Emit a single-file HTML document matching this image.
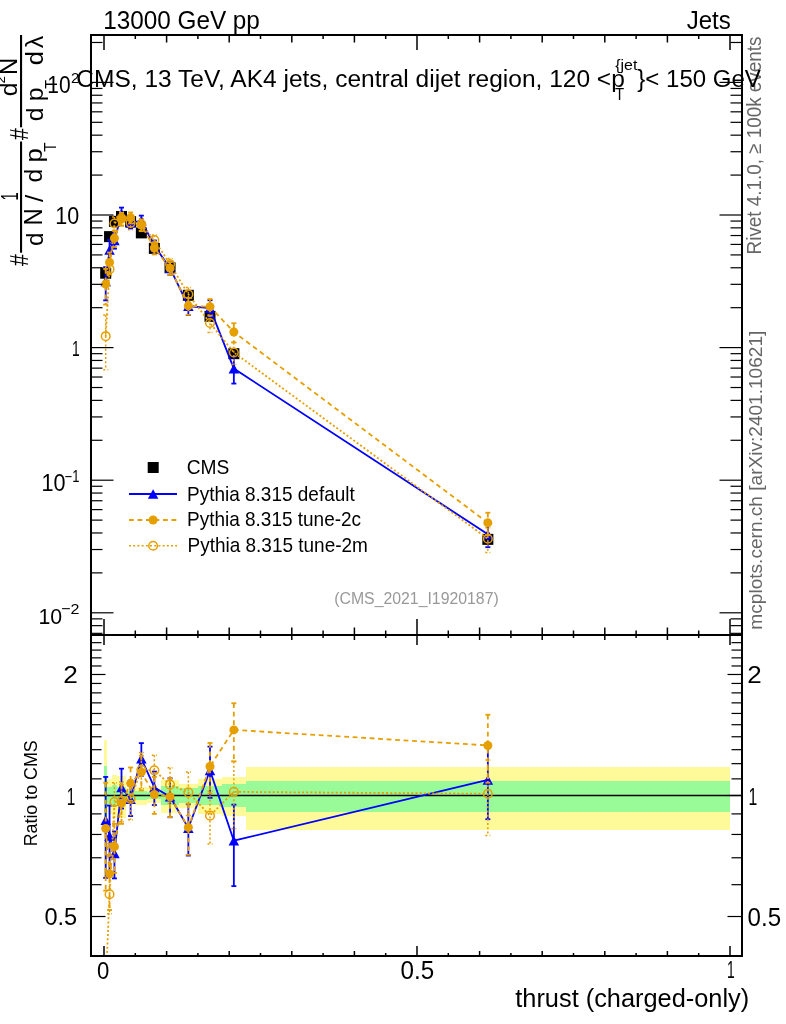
<!DOCTYPE html>
<html><head><meta charset="utf-8"><title>thrust (charged-only)</title>
<style>html,body{margin:0;padding:0;background:#fff;width:786px;height:1024px;overflow:hidden}</style>
</head><body>
<svg width="786" height="1024" viewBox="0 0 786 1024" style="display:block;will-change:transform">
<rect x="0" y="0" width="786" height="1024" fill="#fff"/>
<defs><clipPath id="cu"><rect x="92" y="36" width="649" height="598"/></clipPath><clipPath id="cl"><rect x="92" y="636" width="649" height="319"/></clipPath></defs>
<g clip-path="url(#cl)" shape-rendering="crispEdges">
<rect x="104.0" y="740.2" width="3.4" height="136.8" fill="#fffa99"/>
<rect x="107.4" y="779.2" width="4.3" height="34.3" fill="#fffa99"/>
<rect x="111.7" y="775.2" width="5.5" height="43.2" fill="#fffa99"/>
<rect x="117.2" y="775.7" width="8.6" height="42.1" fill="#fffa99"/>
<rect x="125.8" y="787.6" width="9.6" height="16.1" fill="#fffa99"/>
<rect x="135.4" y="787.0" width="11.9" height="17.5" fill="#fffa99"/>
<rect x="147.3" y="788.0" width="14.1" height="15.4" fill="#fffa99"/>
<rect x="161.4" y="780.0" width="17.3" height="32.6" fill="#fffa99"/>
<rect x="178.7" y="783.5" width="19.3" height="24.8" fill="#fffa99"/>
<rect x="198.0" y="779.0" width="24.0" height="34.7" fill="#fffa99"/>
<rect x="222.0" y="777.3" width="23.7" height="38.6" fill="#fffa99"/>
<rect x="245.7" y="767.0" width="484.3" height="62.5" fill="#fffa99"/>
<rect x="104.0" y="765.6" width="3.4" height="66.1" fill="#98fb98"/>
<rect x="107.4" y="786.8" width="4.3" height="17.8" fill="#98fb98"/>
<rect x="111.7" y="785.3" width="5.5" height="21.0" fill="#98fb98"/>
<rect x="117.2" y="787.0" width="8.6" height="17.5" fill="#98fb98"/>
<rect x="125.8" y="790.8" width="9.6" height="9.4" fill="#98fb98"/>
<rect x="135.4" y="791.2" width="11.9" height="8.7" fill="#98fb98"/>
<rect x="147.3" y="792.0" width="14.1" height="7.0" fill="#98fb98"/>
<rect x="161.4" y="786.2" width="17.3" height="19.2" fill="#98fb98"/>
<rect x="178.7" y="788.0" width="19.3" height="15.4" fill="#98fb98"/>
<rect x="198.0" y="786.2" width="24.0" height="19.2" fill="#98fb98"/>
<rect x="222.0" y="784.3" width="23.7" height="23.1" fill="#98fb98"/>
<rect x="245.7" y="780.8" width="484.3" height="30.8" fill="#98fb98"/>
</g>
<line x1="92" y1="795.5" x2="741" y2="795.5" stroke="#000" stroke-width="1.6"/>
<g clip-path="url(#cu)">
<rect x="100.20" y="267.70" width="11" height="11" fill="#000"/>
<rect x="104.05" y="231.12" width="11" height="11" fill="#000"/>
<rect x="108.95" y="215.82" width="11" height="11" fill="#000"/>
<rect x="116.00" y="210.96" width="11" height="11" fill="#000"/>
<rect x="125.10" y="216.21" width="11" height="11" fill="#000"/>
<rect x="135.85" y="227.39" width="11" height="11" fill="#000"/>
<rect x="148.85" y="242.89" width="11" height="11" fill="#000"/>
<rect x="164.55" y="262.27" width="11" height="11" fill="#000"/>
<rect x="182.85" y="289.80" width="11" height="11" fill="#000"/>
<rect x="204.50" y="310.87" width="11" height="11" fill="#000"/>
<rect x="228.35" y="348.17" width="11" height="11" fill="#000"/>
<rect x="482.35" y="533.86" width="11" height="11" fill="#000"/>
</g>
<g clip-path="url(#cu)">
<polyline points="105.70,281.35 109.55,249.98 114.45,240.40 121.50,213.81 130.60,222.87 141.35,220.73 154.35,245.75 170.05,268.17 188.35,306.03 210.00,308.07 233.85,368.57 487.85,534.23" fill="none" stroke="#0000ff" stroke-width="1.8"/>
<line x1="105.70" y1="267.08" x2="105.70" y2="300.36" stroke="#0000ff" stroke-width="1.8"/>
<line x1="103.20" y1="267.08" x2="108.20" y2="267.08" stroke="#0000ff" stroke-width="1.8"/>
<line x1="103.20" y1="300.36" x2="108.20" y2="300.36" stroke="#0000ff" stroke-width="1.8"/>
<line x1="109.55" y1="239.94" x2="109.55" y2="262.14" stroke="#0000ff" stroke-width="1.8"/>
<line x1="107.05" y1="239.94" x2="112.05" y2="239.94" stroke="#0000ff" stroke-width="1.8"/>
<line x1="107.05" y1="262.14" x2="112.05" y2="262.14" stroke="#0000ff" stroke-width="1.8"/>
<line x1="114.45" y1="233.18" x2="114.45" y2="248.67" stroke="#0000ff" stroke-width="1.8"/>
<line x1="111.95" y1="233.18" x2="116.95" y2="233.18" stroke="#0000ff" stroke-width="1.8"/>
<line x1="111.95" y1="248.67" x2="116.95" y2="248.67" stroke="#0000ff" stroke-width="1.8"/>
<line x1="121.50" y1="207.61" x2="121.50" y2="220.76" stroke="#0000ff" stroke-width="1.8"/>
<line x1="119.00" y1="207.61" x2="124.00" y2="207.61" stroke="#0000ff" stroke-width="1.8"/>
<line x1="119.00" y1="220.76" x2="124.00" y2="220.76" stroke="#0000ff" stroke-width="1.8"/>
<line x1="130.60" y1="217.76" x2="130.60" y2="228.49" stroke="#0000ff" stroke-width="1.8"/>
<line x1="128.10" y1="217.76" x2="133.10" y2="217.76" stroke="#0000ff" stroke-width="1.8"/>
<line x1="128.10" y1="228.49" x2="133.10" y2="228.49" stroke="#0000ff" stroke-width="1.8"/>
<line x1="141.35" y1="215.60" x2="141.35" y2="226.36" stroke="#0000ff" stroke-width="1.8"/>
<line x1="138.85" y1="215.60" x2="143.85" y2="215.60" stroke="#0000ff" stroke-width="1.8"/>
<line x1="138.85" y1="226.36" x2="143.85" y2="226.36" stroke="#0000ff" stroke-width="1.8"/>
<line x1="154.35" y1="240.49" x2="154.35" y2="251.53" stroke="#0000ff" stroke-width="1.8"/>
<line x1="151.85" y1="240.49" x2="156.85" y2="240.49" stroke="#0000ff" stroke-width="1.8"/>
<line x1="151.85" y1="251.53" x2="156.85" y2="251.53" stroke="#0000ff" stroke-width="1.8"/>
<line x1="170.05" y1="262.12" x2="170.05" y2="274.93" stroke="#0000ff" stroke-width="1.8"/>
<line x1="167.55" y1="262.12" x2="172.55" y2="262.12" stroke="#0000ff" stroke-width="1.8"/>
<line x1="167.55" y1="274.93" x2="172.55" y2="274.93" stroke="#0000ff" stroke-width="1.8"/>
<line x1="188.35" y1="298.19" x2="188.35" y2="315.10" stroke="#0000ff" stroke-width="1.8"/>
<line x1="185.85" y1="298.19" x2="190.85" y2="298.19" stroke="#0000ff" stroke-width="1.8"/>
<line x1="185.85" y1="315.10" x2="190.85" y2="315.10" stroke="#0000ff" stroke-width="1.8"/>
<line x1="210.00" y1="300.25" x2="210.00" y2="317.12" stroke="#0000ff" stroke-width="1.8"/>
<line x1="207.50" y1="300.25" x2="212.50" y2="300.25" stroke="#0000ff" stroke-width="1.8"/>
<line x1="207.50" y1="317.12" x2="212.50" y2="317.12" stroke="#0000ff" stroke-width="1.8"/>
<line x1="233.85" y1="356.68" x2="233.85" y2="383.57" stroke="#0000ff" stroke-width="1.8"/>
<line x1="231.35" y1="356.68" x2="236.35" y2="356.68" stroke="#0000ff" stroke-width="1.8"/>
<line x1="231.35" y1="383.57" x2="236.35" y2="383.57" stroke="#0000ff" stroke-width="1.8"/>
<line x1="487.85" y1="523.67" x2="487.85" y2="547.18" stroke="#0000ff" stroke-width="1.8"/>
<line x1="485.35" y1="523.67" x2="490.35" y2="523.67" stroke="#0000ff" stroke-width="1.8"/>
<line x1="485.35" y1="547.18" x2="490.35" y2="547.18" stroke="#0000ff" stroke-width="1.8"/>
<polygon points="100.45,286.20 110.95,286.20 105.70,276.50" fill="#0000ff"/>
<polygon points="104.30,254.83 114.80,254.83 109.55,245.13" fill="#0000ff"/>
<polygon points="109.20,245.25 119.70,245.25 114.45,235.55" fill="#0000ff"/>
<polygon points="116.25,218.66 126.75,218.66 121.50,208.96" fill="#0000ff"/>
<polygon points="125.35,227.72 135.85,227.72 130.60,218.02" fill="#0000ff"/>
<polygon points="136.10,225.58 146.60,225.58 141.35,215.88" fill="#0000ff"/>
<polygon points="149.10,250.60 159.60,250.60 154.35,240.90" fill="#0000ff"/>
<polygon points="164.80,273.02 175.30,273.02 170.05,263.32" fill="#0000ff"/>
<polygon points="183.10,310.88 193.60,310.88 188.35,301.18" fill="#0000ff"/>
<polygon points="204.75,312.92 215.25,312.92 210.00,303.22" fill="#0000ff"/>
<polygon points="228.60,373.42 239.10,373.42 233.85,363.72" fill="#0000ff"/>
<polygon points="482.60,539.08 493.10,539.08 487.85,529.38" fill="#0000ff"/>
</g>
<g clip-path="url(#cu)">
<polyline points="105.70,284.07 109.55,262.41 114.45,238.20 121.50,218.99 130.60,217.71 141.35,225.19 154.35,248.05 170.05,268.17 188.35,305.82 210.00,306.79 233.85,332.03 487.85,522.85" fill="none" stroke="#e69f00" stroke-width="1.8" stroke-dasharray="4.8,3.7"/>
<line x1="105.70" y1="268.98" x2="105.70" y2="304.57" stroke="#e69f00" stroke-width="1.8" stroke-dasharray="4.8,3.7"/>
<line x1="103.20" y1="268.98" x2="108.20" y2="268.98" stroke="#e69f00" stroke-width="1.8"/>
<line x1="103.20" y1="304.57" x2="108.20" y2="304.57" stroke="#e69f00" stroke-width="1.8"/>
<line x1="109.55" y1="252.50" x2="109.55" y2="274.39" stroke="#e69f00" stroke-width="1.8" stroke-dasharray="4.8,3.7"/>
<line x1="107.05" y1="252.50" x2="112.05" y2="252.50" stroke="#e69f00" stroke-width="1.8"/>
<line x1="107.05" y1="274.39" x2="112.05" y2="274.39" stroke="#e69f00" stroke-width="1.8"/>
<line x1="114.45" y1="230.68" x2="114.45" y2="246.84" stroke="#e69f00" stroke-width="1.8" stroke-dasharray="4.8,3.7"/>
<line x1="111.95" y1="230.68" x2="116.95" y2="230.68" stroke="#e69f00" stroke-width="1.8"/>
<line x1="111.95" y1="246.84" x2="116.95" y2="246.84" stroke="#e69f00" stroke-width="1.8"/>
<line x1="121.50" y1="212.89" x2="121.50" y2="225.82" stroke="#e69f00" stroke-width="1.8" stroke-dasharray="4.8,3.7"/>
<line x1="119.00" y1="212.89" x2="124.00" y2="212.89" stroke="#e69f00" stroke-width="1.8"/>
<line x1="119.00" y1="225.82" x2="124.00" y2="225.82" stroke="#e69f00" stroke-width="1.8"/>
<line x1="130.60" y1="212.47" x2="130.60" y2="223.46" stroke="#e69f00" stroke-width="1.8" stroke-dasharray="4.8,3.7"/>
<line x1="128.10" y1="212.47" x2="133.10" y2="212.47" stroke="#e69f00" stroke-width="1.8"/>
<line x1="128.10" y1="223.46" x2="133.10" y2="223.46" stroke="#e69f00" stroke-width="1.8"/>
<line x1="141.35" y1="219.76" x2="141.35" y2="231.18" stroke="#e69f00" stroke-width="1.8" stroke-dasharray="4.8,3.7"/>
<line x1="138.85" y1="219.76" x2="143.85" y2="219.76" stroke="#e69f00" stroke-width="1.8"/>
<line x1="138.85" y1="231.18" x2="143.85" y2="231.18" stroke="#e69f00" stroke-width="1.8"/>
<line x1="154.35" y1="242.28" x2="154.35" y2="254.46" stroke="#e69f00" stroke-width="1.8" stroke-dasharray="4.8,3.7"/>
<line x1="151.85" y1="242.28" x2="156.85" y2="242.28" stroke="#e69f00" stroke-width="1.8"/>
<line x1="151.85" y1="254.46" x2="156.85" y2="254.46" stroke="#e69f00" stroke-width="1.8"/>
<line x1="170.05" y1="262.12" x2="170.05" y2="274.93" stroke="#e69f00" stroke-width="1.8" stroke-dasharray="4.8,3.7"/>
<line x1="167.55" y1="262.12" x2="172.55" y2="262.12" stroke="#e69f00" stroke-width="1.8"/>
<line x1="167.55" y1="274.93" x2="172.55" y2="274.93" stroke="#e69f00" stroke-width="1.8"/>
<line x1="188.35" y1="298.01" x2="188.35" y2="314.86" stroke="#e69f00" stroke-width="1.8" stroke-dasharray="4.8,3.7"/>
<line x1="185.85" y1="298.01" x2="190.85" y2="298.01" stroke="#e69f00" stroke-width="1.8"/>
<line x1="185.85" y1="314.86" x2="190.85" y2="314.86" stroke="#e69f00" stroke-width="1.8"/>
<line x1="210.00" y1="299.04" x2="210.00" y2="315.74" stroke="#e69f00" stroke-width="1.8" stroke-dasharray="4.8,3.7"/>
<line x1="207.50" y1="299.04" x2="212.50" y2="299.04" stroke="#e69f00" stroke-width="1.8"/>
<line x1="207.50" y1="315.74" x2="212.50" y2="315.74" stroke="#e69f00" stroke-width="1.8"/>
<line x1="233.85" y1="323.25" x2="233.85" y2="342.41" stroke="#e69f00" stroke-width="1.8" stroke-dasharray="4.8,3.7"/>
<line x1="231.35" y1="323.25" x2="236.35" y2="323.25" stroke="#e69f00" stroke-width="1.8"/>
<line x1="231.35" y1="342.41" x2="236.35" y2="342.41" stroke="#e69f00" stroke-width="1.8"/>
<line x1="487.85" y1="512.72" x2="487.85" y2="535.14" stroke="#e69f00" stroke-width="1.8" stroke-dasharray="4.8,3.7"/>
<line x1="485.35" y1="512.72" x2="490.35" y2="512.72" stroke="#e69f00" stroke-width="1.8"/>
<line x1="485.35" y1="535.14" x2="490.35" y2="535.14" stroke="#e69f00" stroke-width="1.8"/>
<circle cx="105.70" cy="284.07" r="4.5" fill="#e69f00"/>
<circle cx="109.55" cy="262.41" r="4.5" fill="#e69f00"/>
<circle cx="114.45" cy="238.20" r="4.5" fill="#e69f00"/>
<circle cx="121.50" cy="218.99" r="4.5" fill="#e69f00"/>
<circle cx="130.60" cy="217.71" r="4.5" fill="#e69f00"/>
<circle cx="141.35" cy="225.19" r="4.5" fill="#e69f00"/>
<circle cx="154.35" cy="248.05" r="4.5" fill="#e69f00"/>
<circle cx="170.05" cy="268.17" r="4.5" fill="#e69f00"/>
<circle cx="188.35" cy="305.82" r="4.5" fill="#e69f00"/>
<circle cx="210.00" cy="306.79" r="4.5" fill="#e69f00"/>
<circle cx="233.85" cy="332.03" r="4.5" fill="#e69f00"/>
<circle cx="487.85" cy="522.85" r="4.5" fill="#e69f00"/>
</g>
<g clip-path="url(#cu)">
<polyline points="105.70,336.18 109.55,269.19 114.45,223.50 121.50,218.21 130.60,222.87 141.35,224.39 154.35,240.09 170.05,264.19 188.35,294.27 210.00,323.02 233.85,352.47 487.85,538.78" fill="none" stroke="#e69f00" stroke-width="1.8" stroke-dasharray="2,2.2"/>
<line x1="105.70" y1="315.11" x2="105.70" y2="369.75" stroke="#e69f00" stroke-width="1.5" stroke-dasharray="2,2.2"/>
<line x1="103.20" y1="315.11" x2="108.20" y2="315.11" stroke="#e69f00" stroke-width="1.5" stroke-dasharray="2,2.2"/>
<line x1="103.20" y1="369.75" x2="108.20" y2="369.75" stroke="#e69f00" stroke-width="1.5" stroke-dasharray="2,2.2"/>
<line x1="109.55" y1="263.41" x2="109.55" y2="275.62" stroke="#e69f00" stroke-width="1.5" stroke-dasharray="2,2.2"/>
<line x1="107.05" y1="263.41" x2="112.05" y2="263.41" stroke="#e69f00" stroke-width="1.5" stroke-dasharray="2,2.2"/>
<line x1="107.05" y1="275.62" x2="112.05" y2="275.62" stroke="#e69f00" stroke-width="1.5" stroke-dasharray="2,2.2"/>
<line x1="114.45" y1="217.11" x2="114.45" y2="230.68" stroke="#e69f00" stroke-width="1.5" stroke-dasharray="2,2.2"/>
<line x1="111.95" y1="217.11" x2="116.95" y2="217.11" stroke="#e69f00" stroke-width="1.5" stroke-dasharray="2,2.2"/>
<line x1="111.95" y1="230.68" x2="116.95" y2="230.68" stroke="#e69f00" stroke-width="1.5" stroke-dasharray="2,2.2"/>
<line x1="121.50" y1="212.03" x2="121.50" y2="225.14" stroke="#e69f00" stroke-width="1.5" stroke-dasharray="2,2.2"/>
<line x1="119.00" y1="212.03" x2="124.00" y2="212.03" stroke="#e69f00" stroke-width="1.5" stroke-dasharray="2,2.2"/>
<line x1="119.00" y1="225.14" x2="124.00" y2="225.14" stroke="#e69f00" stroke-width="1.5" stroke-dasharray="2,2.2"/>
<line x1="130.60" y1="216.75" x2="130.60" y2="229.73" stroke="#e69f00" stroke-width="1.5" stroke-dasharray="2,2.2"/>
<line x1="128.10" y1="216.75" x2="133.10" y2="216.75" stroke="#e69f00" stroke-width="1.5" stroke-dasharray="2,2.2"/>
<line x1="128.10" y1="229.73" x2="133.10" y2="229.73" stroke="#e69f00" stroke-width="1.5" stroke-dasharray="2,2.2"/>
<line x1="141.35" y1="218.72" x2="141.35" y2="230.68" stroke="#e69f00" stroke-width="1.5" stroke-dasharray="2,2.2"/>
<line x1="138.85" y1="218.72" x2="143.85" y2="218.72" stroke="#e69f00" stroke-width="1.5" stroke-dasharray="2,2.2"/>
<line x1="138.85" y1="230.68" x2="143.85" y2="230.68" stroke="#e69f00" stroke-width="1.5" stroke-dasharray="2,2.2"/>
<line x1="154.35" y1="235.08" x2="154.35" y2="245.58" stroke="#e69f00" stroke-width="1.5" stroke-dasharray="2,2.2"/>
<line x1="151.85" y1="235.08" x2="156.85" y2="235.08" stroke="#e69f00" stroke-width="1.5" stroke-dasharray="2,2.2"/>
<line x1="151.85" y1="245.58" x2="156.85" y2="245.58" stroke="#e69f00" stroke-width="1.5" stroke-dasharray="2,2.2"/>
<line x1="170.05" y1="258.58" x2="170.05" y2="270.42" stroke="#e69f00" stroke-width="1.5" stroke-dasharray="2,2.2"/>
<line x1="167.55" y1="258.58" x2="172.55" y2="258.58" stroke="#e69f00" stroke-width="1.5" stroke-dasharray="2,2.2"/>
<line x1="167.55" y1="270.42" x2="172.55" y2="270.42" stroke="#e69f00" stroke-width="1.5" stroke-dasharray="2,2.2"/>
<line x1="188.35" y1="287.55" x2="188.35" y2="301.88" stroke="#e69f00" stroke-width="1.5" stroke-dasharray="2,2.2"/>
<line x1="185.85" y1="287.55" x2="190.85" y2="287.55" stroke="#e69f00" stroke-width="1.5" stroke-dasharray="2,2.2"/>
<line x1="185.85" y1="301.88" x2="190.85" y2="301.88" stroke="#e69f00" stroke-width="1.5" stroke-dasharray="2,2.2"/>
<line x1="210.00" y1="314.95" x2="210.00" y2="332.40" stroke="#e69f00" stroke-width="1.5" stroke-dasharray="2,2.2"/>
<line x1="207.50" y1="314.95" x2="212.50" y2="314.95" stroke="#e69f00" stroke-width="1.5" stroke-dasharray="2,2.2"/>
<line x1="207.50" y1="332.40" x2="212.50" y2="332.40" stroke="#e69f00" stroke-width="1.5" stroke-dasharray="2,2.2"/>
<line x1="233.85" y1="342.45" x2="233.85" y2="364.61" stroke="#e69f00" stroke-width="1.5" stroke-dasharray="2,2.2"/>
<line x1="231.35" y1="342.45" x2="236.35" y2="342.45" stroke="#e69f00" stroke-width="1.5" stroke-dasharray="2,2.2"/>
<line x1="231.35" y1="364.61" x2="236.35" y2="364.61" stroke="#e69f00" stroke-width="1.5" stroke-dasharray="2,2.2"/>
<line x1="487.85" y1="527.67" x2="487.85" y2="552.57" stroke="#e69f00" stroke-width="1.5" stroke-dasharray="2,2.2"/>
<line x1="485.35" y1="527.67" x2="490.35" y2="527.67" stroke="#e69f00" stroke-width="1.5" stroke-dasharray="2,2.2"/>
<line x1="485.35" y1="552.57" x2="490.35" y2="552.57" stroke="#e69f00" stroke-width="1.5" stroke-dasharray="2,2.2"/>
<circle cx="105.70" cy="336.18" r="4.3" fill="none" stroke="#e69f00" stroke-width="1.5"/>
<circle cx="109.55" cy="269.19" r="4.3" fill="none" stroke="#e69f00" stroke-width="1.5"/>
<circle cx="114.45" cy="223.50" r="4.3" fill="none" stroke="#e69f00" stroke-width="1.5"/>
<circle cx="121.50" cy="218.21" r="4.3" fill="none" stroke="#e69f00" stroke-width="1.5"/>
<circle cx="130.60" cy="222.87" r="4.3" fill="none" stroke="#e69f00" stroke-width="1.5"/>
<circle cx="141.35" cy="224.39" r="4.3" fill="none" stroke="#e69f00" stroke-width="1.5"/>
<circle cx="154.35" cy="240.09" r="4.3" fill="none" stroke="#e69f00" stroke-width="1.5"/>
<circle cx="170.05" cy="264.19" r="4.3" fill="none" stroke="#e69f00" stroke-width="1.5"/>
<circle cx="188.35" cy="294.27" r="4.3" fill="none" stroke="#e69f00" stroke-width="1.5"/>
<circle cx="210.00" cy="323.02" r="4.3" fill="none" stroke="#e69f00" stroke-width="1.5"/>
<circle cx="233.85" cy="352.47" r="4.3" fill="none" stroke="#e69f00" stroke-width="1.5"/>
<circle cx="487.85" cy="538.78" r="4.3" fill="none" stroke="#e69f00" stroke-width="1.5"/>
</g>
<g clip-path="url(#cl)">
<polyline points="105.70,820.22 109.55,835.99 114.45,853.34 121.50,787.48 130.60,799.03 141.35,758.65 154.35,787.48 170.05,796.73 188.35,828.03 210.00,770.34 233.85,840.68 487.85,779.97" fill="none" stroke="#0000ff" stroke-width="1.8"/>
<line x1="105.70" y1="776.97" x2="105.70" y2="877.84" stroke="#0000ff" stroke-width="1.8"/>
<line x1="103.20" y1="776.97" x2="108.20" y2="776.97" stroke="#0000ff" stroke-width="1.8"/>
<line x1="103.20" y1="877.84" x2="108.20" y2="877.84" stroke="#0000ff" stroke-width="1.8"/>
<line x1="109.55" y1="805.56" x2="109.55" y2="872.87" stroke="#0000ff" stroke-width="1.8"/>
<line x1="107.05" y1="805.56" x2="112.05" y2="805.56" stroke="#0000ff" stroke-width="1.8"/>
<line x1="107.05" y1="872.87" x2="112.05" y2="872.87" stroke="#0000ff" stroke-width="1.8"/>
<line x1="114.45" y1="831.43" x2="114.45" y2="878.40" stroke="#0000ff" stroke-width="1.8"/>
<line x1="111.95" y1="831.43" x2="116.95" y2="831.43" stroke="#0000ff" stroke-width="1.8"/>
<line x1="111.95" y1="878.40" x2="116.95" y2="878.40" stroke="#0000ff" stroke-width="1.8"/>
<line x1="121.50" y1="768.69" x2="121.50" y2="808.55" stroke="#0000ff" stroke-width="1.8"/>
<line x1="119.00" y1="768.69" x2="124.00" y2="768.69" stroke="#0000ff" stroke-width="1.8"/>
<line x1="119.00" y1="808.55" x2="124.00" y2="808.55" stroke="#0000ff" stroke-width="1.8"/>
<line x1="130.60" y1="783.52" x2="130.60" y2="816.04" stroke="#0000ff" stroke-width="1.8"/>
<line x1="128.10" y1="783.52" x2="133.10" y2="783.52" stroke="#0000ff" stroke-width="1.8"/>
<line x1="128.10" y1="816.04" x2="133.10" y2="816.04" stroke="#0000ff" stroke-width="1.8"/>
<line x1="141.35" y1="743.11" x2="141.35" y2="775.71" stroke="#0000ff" stroke-width="1.8"/>
<line x1="138.85" y1="743.11" x2="143.85" y2="743.11" stroke="#0000ff" stroke-width="1.8"/>
<line x1="138.85" y1="775.71" x2="143.85" y2="775.71" stroke="#0000ff" stroke-width="1.8"/>
<line x1="154.35" y1="771.56" x2="154.35" y2="805.01" stroke="#0000ff" stroke-width="1.8"/>
<line x1="151.85" y1="771.56" x2="156.85" y2="771.56" stroke="#0000ff" stroke-width="1.8"/>
<line x1="151.85" y1="805.01" x2="156.85" y2="805.01" stroke="#0000ff" stroke-width="1.8"/>
<line x1="170.05" y1="778.38" x2="170.05" y2="817.22" stroke="#0000ff" stroke-width="1.8"/>
<line x1="167.55" y1="778.38" x2="172.55" y2="778.38" stroke="#0000ff" stroke-width="1.8"/>
<line x1="167.55" y1="817.22" x2="172.55" y2="817.22" stroke="#0000ff" stroke-width="1.8"/>
<line x1="188.35" y1="804.27" x2="188.35" y2="855.54" stroke="#0000ff" stroke-width="1.8"/>
<line x1="185.85" y1="804.27" x2="190.85" y2="804.27" stroke="#0000ff" stroke-width="1.8"/>
<line x1="185.85" y1="855.54" x2="190.85" y2="855.54" stroke="#0000ff" stroke-width="1.8"/>
<line x1="210.00" y1="746.63" x2="210.00" y2="797.78" stroke="#0000ff" stroke-width="1.8"/>
<line x1="207.50" y1="746.63" x2="212.50" y2="746.63" stroke="#0000ff" stroke-width="1.8"/>
<line x1="207.50" y1="797.78" x2="212.50" y2="797.78" stroke="#0000ff" stroke-width="1.8"/>
<line x1="233.85" y1="804.64" x2="233.85" y2="886.14" stroke="#0000ff" stroke-width="1.8"/>
<line x1="231.35" y1="804.64" x2="236.35" y2="804.64" stroke="#0000ff" stroke-width="1.8"/>
<line x1="231.35" y1="886.14" x2="236.35" y2="886.14" stroke="#0000ff" stroke-width="1.8"/>
<line x1="487.85" y1="747.96" x2="487.85" y2="819.21" stroke="#0000ff" stroke-width="1.8"/>
<line x1="485.35" y1="747.96" x2="490.35" y2="747.96" stroke="#0000ff" stroke-width="1.8"/>
<line x1="485.35" y1="819.21" x2="490.35" y2="819.21" stroke="#0000ff" stroke-width="1.8"/>
<polygon points="100.45,825.07 110.95,825.07 105.70,815.37" fill="#0000ff"/>
<polygon points="104.30,840.84 114.80,840.84 109.55,831.14" fill="#0000ff"/>
<polygon points="109.20,858.19 119.70,858.19 114.45,848.49" fill="#0000ff"/>
<polygon points="116.25,792.33 126.75,792.33 121.50,782.63" fill="#0000ff"/>
<polygon points="125.35,803.88 135.85,803.88 130.60,794.18" fill="#0000ff"/>
<polygon points="136.10,763.50 146.60,763.50 141.35,753.80" fill="#0000ff"/>
<polygon points="149.10,792.33 159.60,792.33 154.35,782.63" fill="#0000ff"/>
<polygon points="164.80,801.58 175.30,801.58 170.05,791.88" fill="#0000ff"/>
<polygon points="183.10,832.88 193.60,832.88 188.35,823.18" fill="#0000ff"/>
<polygon points="204.75,775.19 215.25,775.19 210.00,765.49" fill="#0000ff"/>
<polygon points="228.60,845.53 239.10,845.53 233.85,835.83" fill="#0000ff"/>
<polygon points="482.60,784.82 493.10,784.82 487.85,775.12" fill="#0000ff"/>
</g>
<g clip-path="url(#cl)">
<polyline points="105.70,828.45 109.55,873.69 114.45,846.66 121.50,803.17 130.60,783.36 141.35,772.17 154.35,794.46 170.05,796.73 188.35,827.40 210.00,766.46 233.85,729.91 487.85,745.45" fill="none" stroke="#e69f00" stroke-width="1.8" stroke-dasharray="4.8,3.7"/>
<line x1="105.70" y1="782.71" x2="105.70" y2="890.60" stroke="#e69f00" stroke-width="1.8" stroke-dasharray="4.8,3.7"/>
<line x1="103.20" y1="782.71" x2="108.20" y2="782.71" stroke="#e69f00" stroke-width="1.8"/>
<line x1="103.20" y1="890.60" x2="108.20" y2="890.60" stroke="#e69f00" stroke-width="1.8"/>
<line x1="109.55" y1="843.64" x2="109.55" y2="910.00" stroke="#e69f00" stroke-width="1.8" stroke-dasharray="4.8,3.7"/>
<line x1="107.05" y1="843.64" x2="112.05" y2="843.64" stroke="#e69f00" stroke-width="1.8"/>
<line x1="107.05" y1="910.00" x2="112.05" y2="910.00" stroke="#e69f00" stroke-width="1.8"/>
<line x1="114.45" y1="823.87" x2="114.45" y2="872.87" stroke="#e69f00" stroke-width="1.8" stroke-dasharray="4.8,3.7"/>
<line x1="111.95" y1="823.87" x2="116.95" y2="823.87" stroke="#e69f00" stroke-width="1.8"/>
<line x1="111.95" y1="872.87" x2="116.95" y2="872.87" stroke="#e69f00" stroke-width="1.8"/>
<line x1="121.50" y1="784.67" x2="121.50" y2="823.87" stroke="#e69f00" stroke-width="1.8" stroke-dasharray="4.8,3.7"/>
<line x1="119.00" y1="784.67" x2="124.00" y2="784.67" stroke="#e69f00" stroke-width="1.8"/>
<line x1="119.00" y1="823.87" x2="124.00" y2="823.87" stroke="#e69f00" stroke-width="1.8"/>
<line x1="130.60" y1="767.49" x2="130.60" y2="800.82" stroke="#e69f00" stroke-width="1.8" stroke-dasharray="4.8,3.7"/>
<line x1="128.10" y1="767.49" x2="133.10" y2="767.49" stroke="#e69f00" stroke-width="1.8"/>
<line x1="128.10" y1="800.82" x2="133.10" y2="800.82" stroke="#e69f00" stroke-width="1.8"/>
<line x1="141.35" y1="755.71" x2="141.35" y2="790.34" stroke="#e69f00" stroke-width="1.8" stroke-dasharray="4.8,3.7"/>
<line x1="138.85" y1="755.71" x2="143.85" y2="755.71" stroke="#e69f00" stroke-width="1.8"/>
<line x1="138.85" y1="790.34" x2="143.85" y2="790.34" stroke="#e69f00" stroke-width="1.8"/>
<line x1="154.35" y1="776.97" x2="154.35" y2="813.89" stroke="#e69f00" stroke-width="1.8" stroke-dasharray="4.8,3.7"/>
<line x1="151.85" y1="776.97" x2="156.85" y2="776.97" stroke="#e69f00" stroke-width="1.8"/>
<line x1="151.85" y1="813.89" x2="156.85" y2="813.89" stroke="#e69f00" stroke-width="1.8"/>
<line x1="170.05" y1="778.38" x2="170.05" y2="817.22" stroke="#e69f00" stroke-width="1.8" stroke-dasharray="4.8,3.7"/>
<line x1="167.55" y1="778.38" x2="172.55" y2="778.38" stroke="#e69f00" stroke-width="1.8"/>
<line x1="167.55" y1="817.22" x2="172.55" y2="817.22" stroke="#e69f00" stroke-width="1.8"/>
<line x1="188.35" y1="803.72" x2="188.35" y2="854.80" stroke="#e69f00" stroke-width="1.8" stroke-dasharray="4.8,3.7"/>
<line x1="185.85" y1="803.72" x2="190.85" y2="803.72" stroke="#e69f00" stroke-width="1.8"/>
<line x1="185.85" y1="854.80" x2="190.85" y2="854.80" stroke="#e69f00" stroke-width="1.8"/>
<line x1="210.00" y1="742.98" x2="210.00" y2="793.59" stroke="#e69f00" stroke-width="1.8" stroke-dasharray="4.8,3.7"/>
<line x1="207.50" y1="742.98" x2="212.50" y2="742.98" stroke="#e69f00" stroke-width="1.8"/>
<line x1="207.50" y1="793.59" x2="212.50" y2="793.59" stroke="#e69f00" stroke-width="1.8"/>
<line x1="233.85" y1="703.27" x2="233.85" y2="761.36" stroke="#e69f00" stroke-width="1.8" stroke-dasharray="4.8,3.7"/>
<line x1="231.35" y1="703.27" x2="236.35" y2="703.27" stroke="#e69f00" stroke-width="1.8"/>
<line x1="231.35" y1="761.36" x2="236.35" y2="761.36" stroke="#e69f00" stroke-width="1.8"/>
<line x1="487.85" y1="714.76" x2="487.85" y2="782.71" stroke="#e69f00" stroke-width="1.8" stroke-dasharray="4.8,3.7"/>
<line x1="485.35" y1="714.76" x2="490.35" y2="714.76" stroke="#e69f00" stroke-width="1.8"/>
<line x1="485.35" y1="782.71" x2="490.35" y2="782.71" stroke="#e69f00" stroke-width="1.8"/>
<circle cx="105.70" cy="828.45" r="4.5" fill="#e69f00"/>
<circle cx="109.55" cy="873.69" r="4.5" fill="#e69f00"/>
<circle cx="114.45" cy="846.66" r="4.5" fill="#e69f00"/>
<circle cx="121.50" cy="803.17" r="4.5" fill="#e69f00"/>
<circle cx="130.60" cy="783.36" r="4.5" fill="#e69f00"/>
<circle cx="141.35" cy="772.17" r="4.5" fill="#e69f00"/>
<circle cx="154.35" cy="794.46" r="4.5" fill="#e69f00"/>
<circle cx="170.05" cy="796.73" r="4.5" fill="#e69f00"/>
<circle cx="188.35" cy="827.40" r="4.5" fill="#e69f00"/>
<circle cx="210.00" cy="766.46" r="4.5" fill="#e69f00"/>
<circle cx="233.85" cy="729.91" r="4.5" fill="#e69f00"/>
<circle cx="487.85" cy="745.45" r="4.5" fill="#e69f00"/>
</g>
<g clip-path="url(#cl)">
<polyline points="105.70,986.43 109.55,894.25 114.45,802.08 121.50,800.82 130.60,799.03 141.35,769.74 154.35,770.34 170.05,784.67 188.35,792.39 210.00,815.65 233.85,791.87 487.85,793.76" fill="none" stroke="#e69f00" stroke-width="1.8" stroke-dasharray="2,2.2"/>
<line x1="109.55" y1="876.72" x2="109.55" y2="913.74" stroke="#e69f00" stroke-width="1.5" stroke-dasharray="2,2.2"/>
<line x1="107.05" y1="876.72" x2="112.05" y2="876.72" stroke="#e69f00" stroke-width="1.5" stroke-dasharray="2,2.2"/>
<line x1="107.05" y1="913.74" x2="112.05" y2="913.74" stroke="#e69f00" stroke-width="1.5" stroke-dasharray="2,2.2"/>
<line x1="114.45" y1="782.71" x2="114.45" y2="823.87" stroke="#e69f00" stroke-width="1.5" stroke-dasharray="2,2.2"/>
<line x1="111.95" y1="782.71" x2="116.95" y2="782.71" stroke="#e69f00" stroke-width="1.5" stroke-dasharray="2,2.2"/>
<line x1="111.95" y1="823.87" x2="116.95" y2="823.87" stroke="#e69f00" stroke-width="1.5" stroke-dasharray="2,2.2"/>
<line x1="121.50" y1="782.06" x2="121.50" y2="821.83" stroke="#e69f00" stroke-width="1.5" stroke-dasharray="2,2.2"/>
<line x1="119.00" y1="782.06" x2="124.00" y2="782.06" stroke="#e69f00" stroke-width="1.5" stroke-dasharray="2,2.2"/>
<line x1="119.00" y1="821.83" x2="124.00" y2="821.83" stroke="#e69f00" stroke-width="1.5" stroke-dasharray="2,2.2"/>
<line x1="130.60" y1="780.45" x2="130.60" y2="819.81" stroke="#e69f00" stroke-width="1.5" stroke-dasharray="2,2.2"/>
<line x1="128.10" y1="780.45" x2="133.10" y2="780.45" stroke="#e69f00" stroke-width="1.5" stroke-dasharray="2,2.2"/>
<line x1="128.10" y1="819.81" x2="133.10" y2="819.81" stroke="#e69f00" stroke-width="1.5" stroke-dasharray="2,2.2"/>
<line x1="141.35" y1="752.54" x2="141.35" y2="788.82" stroke="#e69f00" stroke-width="1.5" stroke-dasharray="2,2.2"/>
<line x1="138.85" y1="752.54" x2="143.85" y2="752.54" stroke="#e69f00" stroke-width="1.5" stroke-dasharray="2,2.2"/>
<line x1="138.85" y1="788.82" x2="143.85" y2="788.82" stroke="#e69f00" stroke-width="1.5" stroke-dasharray="2,2.2"/>
<line x1="154.35" y1="755.15" x2="154.35" y2="786.98" stroke="#e69f00" stroke-width="1.5" stroke-dasharray="2,2.2"/>
<line x1="151.85" y1="755.15" x2="156.85" y2="755.15" stroke="#e69f00" stroke-width="1.5" stroke-dasharray="2,2.2"/>
<line x1="151.85" y1="786.98" x2="156.85" y2="786.98" stroke="#e69f00" stroke-width="1.5" stroke-dasharray="2,2.2"/>
<line x1="170.05" y1="767.64" x2="170.05" y2="803.54" stroke="#e69f00" stroke-width="1.5" stroke-dasharray="2,2.2"/>
<line x1="167.55" y1="767.64" x2="172.55" y2="767.64" stroke="#e69f00" stroke-width="1.5" stroke-dasharray="2,2.2"/>
<line x1="167.55" y1="803.54" x2="172.55" y2="803.54" stroke="#e69f00" stroke-width="1.5" stroke-dasharray="2,2.2"/>
<line x1="188.35" y1="772.01" x2="188.35" y2="815.45" stroke="#e69f00" stroke-width="1.5" stroke-dasharray="2,2.2"/>
<line x1="185.85" y1="772.01" x2="190.85" y2="772.01" stroke="#e69f00" stroke-width="1.5" stroke-dasharray="2,2.2"/>
<line x1="185.85" y1="815.45" x2="190.85" y2="815.45" stroke="#e69f00" stroke-width="1.5" stroke-dasharray="2,2.2"/>
<line x1="210.00" y1="791.19" x2="210.00" y2="844.10" stroke="#e69f00" stroke-width="1.5" stroke-dasharray="2,2.2"/>
<line x1="207.50" y1="791.19" x2="212.50" y2="791.19" stroke="#e69f00" stroke-width="1.5" stroke-dasharray="2,2.2"/>
<line x1="207.50" y1="844.10" x2="212.50" y2="844.10" stroke="#e69f00" stroke-width="1.5" stroke-dasharray="2,2.2"/>
<line x1="233.85" y1="761.50" x2="233.85" y2="828.66" stroke="#e69f00" stroke-width="1.5" stroke-dasharray="2,2.2"/>
<line x1="231.35" y1="761.50" x2="236.35" y2="761.50" stroke="#e69f00" stroke-width="1.5" stroke-dasharray="2,2.2"/>
<line x1="231.35" y1="828.66" x2="236.35" y2="828.66" stroke="#e69f00" stroke-width="1.5" stroke-dasharray="2,2.2"/>
<line x1="487.85" y1="760.07" x2="487.85" y2="835.55" stroke="#e69f00" stroke-width="1.5" stroke-dasharray="2,2.2"/>
<line x1="485.35" y1="760.07" x2="490.35" y2="760.07" stroke="#e69f00" stroke-width="1.5" stroke-dasharray="2,2.2"/>
<line x1="485.35" y1="835.55" x2="490.35" y2="835.55" stroke="#e69f00" stroke-width="1.5" stroke-dasharray="2,2.2"/>
<circle cx="109.55" cy="894.25" r="4.3" fill="none" stroke="#e69f00" stroke-width="1.5"/>
<circle cx="114.45" cy="802.08" r="4.3" fill="none" stroke="#e69f00" stroke-width="1.5"/>
<circle cx="121.50" cy="800.82" r="4.3" fill="none" stroke="#e69f00" stroke-width="1.5"/>
<circle cx="130.60" cy="799.03" r="4.3" fill="none" stroke="#e69f00" stroke-width="1.5"/>
<circle cx="141.35" cy="769.74" r="4.3" fill="none" stroke="#e69f00" stroke-width="1.5"/>
<circle cx="154.35" cy="770.34" r="4.3" fill="none" stroke="#e69f00" stroke-width="1.5"/>
<circle cx="170.05" cy="784.67" r="4.3" fill="none" stroke="#e69f00" stroke-width="1.5"/>
<circle cx="188.35" cy="792.39" r="4.3" fill="none" stroke="#e69f00" stroke-width="1.5"/>
<circle cx="210.00" cy="815.65" r="4.3" fill="none" stroke="#e69f00" stroke-width="1.5"/>
<circle cx="233.85" cy="791.87" r="4.3" fill="none" stroke="#e69f00" stroke-width="1.5"/>
<circle cx="487.85" cy="793.76" r="4.3" fill="none" stroke="#e69f00" stroke-width="1.5"/>
</g>
<g stroke="#000" fill="none">
<rect x="91" y="35" width="651" height="921" stroke-width="2"/>
<line x1="91" y1="635" x2="742" y2="635" stroke-width="2"/>
<line x1="104.00" y1="35" x2="104.00" y2="50" stroke-width="1.5"/>
<line x1="135.30" y1="35" x2="135.30" y2="39" stroke-width="1.5"/>
<line x1="166.60" y1="35" x2="166.60" y2="42.5" stroke-width="1.5"/>
<line x1="197.90" y1="35" x2="197.90" y2="39" stroke-width="1.5"/>
<line x1="229.20" y1="35" x2="229.20" y2="42.5" stroke-width="1.5"/>
<line x1="260.50" y1="35" x2="260.50" y2="39" stroke-width="1.5"/>
<line x1="291.80" y1="35" x2="291.80" y2="42.5" stroke-width="1.5"/>
<line x1="323.10" y1="35" x2="323.10" y2="39" stroke-width="1.5"/>
<line x1="354.40" y1="35" x2="354.40" y2="42.5" stroke-width="1.5"/>
<line x1="385.70" y1="35" x2="385.70" y2="39" stroke-width="1.5"/>
<line x1="417.00" y1="35" x2="417.00" y2="50" stroke-width="1.5"/>
<line x1="448.30" y1="35" x2="448.30" y2="39" stroke-width="1.5"/>
<line x1="479.60" y1="35" x2="479.60" y2="42.5" stroke-width="1.5"/>
<line x1="510.90" y1="35" x2="510.90" y2="39" stroke-width="1.5"/>
<line x1="542.20" y1="35" x2="542.20" y2="42.5" stroke-width="1.5"/>
<line x1="573.50" y1="35" x2="573.50" y2="39" stroke-width="1.5"/>
<line x1="604.80" y1="35" x2="604.80" y2="42.5" stroke-width="1.5"/>
<line x1="636.10" y1="35" x2="636.10" y2="39" stroke-width="1.5"/>
<line x1="667.40" y1="35" x2="667.40" y2="42.5" stroke-width="1.5"/>
<line x1="698.70" y1="35" x2="698.70" y2="39" stroke-width="1.5"/>
<line x1="730.00" y1="35" x2="730.00" y2="50" stroke-width="1.5"/>
<line x1="104.00" y1="635" x2="104.00" y2="619" stroke-width="1.5"/>
<line x1="135.30" y1="635" x2="135.30" y2="630.5" stroke-width="1.5"/>
<line x1="166.60" y1="635" x2="166.60" y2="627.5" stroke-width="1.5"/>
<line x1="197.90" y1="635" x2="197.90" y2="630.5" stroke-width="1.5"/>
<line x1="229.20" y1="635" x2="229.20" y2="627.5" stroke-width="1.5"/>
<line x1="260.50" y1="635" x2="260.50" y2="630.5" stroke-width="1.5"/>
<line x1="291.80" y1="635" x2="291.80" y2="627.5" stroke-width="1.5"/>
<line x1="323.10" y1="635" x2="323.10" y2="630.5" stroke-width="1.5"/>
<line x1="354.40" y1="635" x2="354.40" y2="627.5" stroke-width="1.5"/>
<line x1="385.70" y1="635" x2="385.70" y2="630.5" stroke-width="1.5"/>
<line x1="417.00" y1="635" x2="417.00" y2="619" stroke-width="1.5"/>
<line x1="448.30" y1="635" x2="448.30" y2="630.5" stroke-width="1.5"/>
<line x1="479.60" y1="635" x2="479.60" y2="627.5" stroke-width="1.5"/>
<line x1="510.90" y1="635" x2="510.90" y2="630.5" stroke-width="1.5"/>
<line x1="542.20" y1="635" x2="542.20" y2="627.5" stroke-width="1.5"/>
<line x1="573.50" y1="635" x2="573.50" y2="630.5" stroke-width="1.5"/>
<line x1="604.80" y1="635" x2="604.80" y2="627.5" stroke-width="1.5"/>
<line x1="636.10" y1="635" x2="636.10" y2="630.5" stroke-width="1.5"/>
<line x1="667.40" y1="635" x2="667.40" y2="627.5" stroke-width="1.5"/>
<line x1="698.70" y1="635" x2="698.70" y2="630.5" stroke-width="1.5"/>
<line x1="730.00" y1="635" x2="730.00" y2="619" stroke-width="1.5"/>
<line x1="104.00" y1="635" x2="104.00" y2="645" stroke-width="1.5"/>
<line x1="135.30" y1="635" x2="135.30" y2="638" stroke-width="1.5"/>
<line x1="166.60" y1="635" x2="166.60" y2="640" stroke-width="1.5"/>
<line x1="197.90" y1="635" x2="197.90" y2="638" stroke-width="1.5"/>
<line x1="229.20" y1="635" x2="229.20" y2="640" stroke-width="1.5"/>
<line x1="260.50" y1="635" x2="260.50" y2="638" stroke-width="1.5"/>
<line x1="291.80" y1="635" x2="291.80" y2="640" stroke-width="1.5"/>
<line x1="323.10" y1="635" x2="323.10" y2="638" stroke-width="1.5"/>
<line x1="354.40" y1="635" x2="354.40" y2="640" stroke-width="1.5"/>
<line x1="385.70" y1="635" x2="385.70" y2="638" stroke-width="1.5"/>
<line x1="417.00" y1="635" x2="417.00" y2="645" stroke-width="1.5"/>
<line x1="448.30" y1="635" x2="448.30" y2="638" stroke-width="1.5"/>
<line x1="479.60" y1="635" x2="479.60" y2="640" stroke-width="1.5"/>
<line x1="510.90" y1="635" x2="510.90" y2="638" stroke-width="1.5"/>
<line x1="542.20" y1="635" x2="542.20" y2="640" stroke-width="1.5"/>
<line x1="573.50" y1="635" x2="573.50" y2="638" stroke-width="1.5"/>
<line x1="604.80" y1="635" x2="604.80" y2="640" stroke-width="1.5"/>
<line x1="636.10" y1="635" x2="636.10" y2="638" stroke-width="1.5"/>
<line x1="667.40" y1="635" x2="667.40" y2="640" stroke-width="1.5"/>
<line x1="698.70" y1="635" x2="698.70" y2="638" stroke-width="1.5"/>
<line x1="730.00" y1="635" x2="730.00" y2="645" stroke-width="1.5"/>
<line x1="104.00" y1="956" x2="104.00" y2="946" stroke-width="1.5"/>
<line x1="135.30" y1="956" x2="135.30" y2="953" stroke-width="1.5"/>
<line x1="166.60" y1="956" x2="166.60" y2="951" stroke-width="1.5"/>
<line x1="197.90" y1="956" x2="197.90" y2="953" stroke-width="1.5"/>
<line x1="229.20" y1="956" x2="229.20" y2="951" stroke-width="1.5"/>
<line x1="260.50" y1="956" x2="260.50" y2="953" stroke-width="1.5"/>
<line x1="291.80" y1="956" x2="291.80" y2="951" stroke-width="1.5"/>
<line x1="323.10" y1="956" x2="323.10" y2="953" stroke-width="1.5"/>
<line x1="354.40" y1="956" x2="354.40" y2="951" stroke-width="1.5"/>
<line x1="385.70" y1="956" x2="385.70" y2="953" stroke-width="1.5"/>
<line x1="417.00" y1="956" x2="417.00" y2="946" stroke-width="1.5"/>
<line x1="448.30" y1="956" x2="448.30" y2="953" stroke-width="1.5"/>
<line x1="479.60" y1="956" x2="479.60" y2="951" stroke-width="1.5"/>
<line x1="510.90" y1="956" x2="510.90" y2="953" stroke-width="1.5"/>
<line x1="542.20" y1="956" x2="542.20" y2="951" stroke-width="1.5"/>
<line x1="573.50" y1="956" x2="573.50" y2="953" stroke-width="1.5"/>
<line x1="604.80" y1="956" x2="604.80" y2="951" stroke-width="1.5"/>
<line x1="636.10" y1="956" x2="636.10" y2="953" stroke-width="1.5"/>
<line x1="667.40" y1="956" x2="667.40" y2="951" stroke-width="1.5"/>
<line x1="698.70" y1="956" x2="698.70" y2="953" stroke-width="1.5"/>
<line x1="730.00" y1="956" x2="730.00" y2="946" stroke-width="1.5"/>
<line x1="91" y1="633.34" x2="102.5" y2="633.34" stroke-width="1.2"/>
<line x1="742" y1="633.34" x2="730.5" y2="633.34" stroke-width="1.2"/>
<line x1="91" y1="625.65" x2="102.5" y2="625.65" stroke-width="1.2"/>
<line x1="742" y1="625.65" x2="730.5" y2="625.65" stroke-width="1.2"/>
<line x1="91" y1="618.87" x2="102.5" y2="618.87" stroke-width="1.2"/>
<line x1="742" y1="618.87" x2="730.5" y2="618.87" stroke-width="1.2"/>
<line x1="91" y1="612.80" x2="113.5" y2="612.80" stroke-width="1.2"/>
<line x1="742" y1="612.80" x2="719.5" y2="612.80" stroke-width="1.2"/>
<line x1="91" y1="572.88" x2="102.5" y2="572.88" stroke-width="1.2"/>
<line x1="742" y1="572.88" x2="730.5" y2="572.88" stroke-width="1.2"/>
<line x1="91" y1="549.53" x2="102.5" y2="549.53" stroke-width="1.2"/>
<line x1="742" y1="549.53" x2="730.5" y2="549.53" stroke-width="1.2"/>
<line x1="91" y1="532.97" x2="102.5" y2="532.97" stroke-width="1.2"/>
<line x1="742" y1="532.97" x2="730.5" y2="532.97" stroke-width="1.2"/>
<line x1="91" y1="520.12" x2="102.5" y2="520.12" stroke-width="1.2"/>
<line x1="742" y1="520.12" x2="730.5" y2="520.12" stroke-width="1.2"/>
<line x1="91" y1="509.62" x2="102.5" y2="509.62" stroke-width="1.2"/>
<line x1="742" y1="509.62" x2="730.5" y2="509.62" stroke-width="1.2"/>
<line x1="91" y1="500.74" x2="102.5" y2="500.74" stroke-width="1.2"/>
<line x1="742" y1="500.74" x2="730.5" y2="500.74" stroke-width="1.2"/>
<line x1="91" y1="493.05" x2="102.5" y2="493.05" stroke-width="1.2"/>
<line x1="742" y1="493.05" x2="730.5" y2="493.05" stroke-width="1.2"/>
<line x1="91" y1="486.27" x2="102.5" y2="486.27" stroke-width="1.2"/>
<line x1="742" y1="486.27" x2="730.5" y2="486.27" stroke-width="1.2"/>
<line x1="91" y1="480.20" x2="113.5" y2="480.20" stroke-width="1.2"/>
<line x1="742" y1="480.20" x2="719.5" y2="480.20" stroke-width="1.2"/>
<line x1="91" y1="440.28" x2="102.5" y2="440.28" stroke-width="1.2"/>
<line x1="742" y1="440.28" x2="730.5" y2="440.28" stroke-width="1.2"/>
<line x1="91" y1="416.93" x2="102.5" y2="416.93" stroke-width="1.2"/>
<line x1="742" y1="416.93" x2="730.5" y2="416.93" stroke-width="1.2"/>
<line x1="91" y1="400.37" x2="102.5" y2="400.37" stroke-width="1.2"/>
<line x1="742" y1="400.37" x2="730.5" y2="400.37" stroke-width="1.2"/>
<line x1="91" y1="387.52" x2="102.5" y2="387.52" stroke-width="1.2"/>
<line x1="742" y1="387.52" x2="730.5" y2="387.52" stroke-width="1.2"/>
<line x1="91" y1="377.02" x2="102.5" y2="377.02" stroke-width="1.2"/>
<line x1="742" y1="377.02" x2="730.5" y2="377.02" stroke-width="1.2"/>
<line x1="91" y1="368.14" x2="102.5" y2="368.14" stroke-width="1.2"/>
<line x1="742" y1="368.14" x2="730.5" y2="368.14" stroke-width="1.2"/>
<line x1="91" y1="360.45" x2="102.5" y2="360.45" stroke-width="1.2"/>
<line x1="742" y1="360.45" x2="730.5" y2="360.45" stroke-width="1.2"/>
<line x1="91" y1="353.67" x2="102.5" y2="353.67" stroke-width="1.2"/>
<line x1="742" y1="353.67" x2="730.5" y2="353.67" stroke-width="1.2"/>
<line x1="91" y1="347.60" x2="113.5" y2="347.60" stroke-width="1.2"/>
<line x1="742" y1="347.60" x2="719.5" y2="347.60" stroke-width="1.2"/>
<line x1="91" y1="307.68" x2="102.5" y2="307.68" stroke-width="1.2"/>
<line x1="742" y1="307.68" x2="730.5" y2="307.68" stroke-width="1.2"/>
<line x1="91" y1="284.33" x2="102.5" y2="284.33" stroke-width="1.2"/>
<line x1="742" y1="284.33" x2="730.5" y2="284.33" stroke-width="1.2"/>
<line x1="91" y1="267.77" x2="102.5" y2="267.77" stroke-width="1.2"/>
<line x1="742" y1="267.77" x2="730.5" y2="267.77" stroke-width="1.2"/>
<line x1="91" y1="254.92" x2="102.5" y2="254.92" stroke-width="1.2"/>
<line x1="742" y1="254.92" x2="730.5" y2="254.92" stroke-width="1.2"/>
<line x1="91" y1="244.42" x2="102.5" y2="244.42" stroke-width="1.2"/>
<line x1="742" y1="244.42" x2="730.5" y2="244.42" stroke-width="1.2"/>
<line x1="91" y1="235.54" x2="102.5" y2="235.54" stroke-width="1.2"/>
<line x1="742" y1="235.54" x2="730.5" y2="235.54" stroke-width="1.2"/>
<line x1="91" y1="227.85" x2="102.5" y2="227.85" stroke-width="1.2"/>
<line x1="742" y1="227.85" x2="730.5" y2="227.85" stroke-width="1.2"/>
<line x1="91" y1="221.07" x2="102.5" y2="221.07" stroke-width="1.2"/>
<line x1="742" y1="221.07" x2="730.5" y2="221.07" stroke-width="1.2"/>
<line x1="91" y1="215.00" x2="113.5" y2="215.00" stroke-width="1.2"/>
<line x1="742" y1="215.00" x2="719.5" y2="215.00" stroke-width="1.2"/>
<line x1="91" y1="175.08" x2="102.5" y2="175.08" stroke-width="1.2"/>
<line x1="742" y1="175.08" x2="730.5" y2="175.08" stroke-width="1.2"/>
<line x1="91" y1="151.73" x2="102.5" y2="151.73" stroke-width="1.2"/>
<line x1="742" y1="151.73" x2="730.5" y2="151.73" stroke-width="1.2"/>
<line x1="91" y1="135.17" x2="102.5" y2="135.17" stroke-width="1.2"/>
<line x1="742" y1="135.17" x2="730.5" y2="135.17" stroke-width="1.2"/>
<line x1="91" y1="122.32" x2="102.5" y2="122.32" stroke-width="1.2"/>
<line x1="742" y1="122.32" x2="730.5" y2="122.32" stroke-width="1.2"/>
<line x1="91" y1="111.82" x2="102.5" y2="111.82" stroke-width="1.2"/>
<line x1="742" y1="111.82" x2="730.5" y2="111.82" stroke-width="1.2"/>
<line x1="91" y1="102.94" x2="102.5" y2="102.94" stroke-width="1.2"/>
<line x1="742" y1="102.94" x2="730.5" y2="102.94" stroke-width="1.2"/>
<line x1="91" y1="95.25" x2="102.5" y2="95.25" stroke-width="1.2"/>
<line x1="742" y1="95.25" x2="730.5" y2="95.25" stroke-width="1.2"/>
<line x1="91" y1="88.47" x2="102.5" y2="88.47" stroke-width="1.2"/>
<line x1="742" y1="88.47" x2="730.5" y2="88.47" stroke-width="1.2"/>
<line x1="91" y1="82.40" x2="113.5" y2="82.40" stroke-width="1.2"/>
<line x1="742" y1="82.40" x2="719.5" y2="82.40" stroke-width="1.2"/>
<line x1="91" y1="42.48" x2="102.5" y2="42.48" stroke-width="1.2"/>
<line x1="742" y1="42.48" x2="730.5" y2="42.48" stroke-width="1.2"/>
<line x1="91" y1="916.51" x2="105.5" y2="916.51" stroke-width="1.2"/>
<line x1="742" y1="916.51" x2="727.5" y2="916.51" stroke-width="1.2"/>
<line x1="91" y1="884.68" x2="101.5" y2="884.68" stroke-width="1.2"/>
<line x1="742" y1="884.68" x2="731.5" y2="884.68" stroke-width="1.2"/>
<line x1="91" y1="857.77" x2="101.5" y2="857.77" stroke-width="1.2"/>
<line x1="742" y1="857.77" x2="731.5" y2="857.77" stroke-width="1.2"/>
<line x1="91" y1="834.46" x2="101.5" y2="834.46" stroke-width="1.2"/>
<line x1="742" y1="834.46" x2="731.5" y2="834.46" stroke-width="1.2"/>
<line x1="91" y1="813.89" x2="101.5" y2="813.89" stroke-width="1.2"/>
<line x1="742" y1="813.89" x2="731.5" y2="813.89" stroke-width="1.2"/>
<line x1="91" y1="795.50" x2="105.5" y2="795.50" stroke-width="1.2"/>
<line x1="742" y1="795.50" x2="727.5" y2="795.50" stroke-width="1.2"/>
<line x1="91" y1="778.86" x2="101.5" y2="778.86" stroke-width="1.2"/>
<line x1="742" y1="778.86" x2="731.5" y2="778.86" stroke-width="1.2"/>
<line x1="91" y1="763.67" x2="101.5" y2="763.67" stroke-width="1.2"/>
<line x1="742" y1="763.67" x2="731.5" y2="763.67" stroke-width="1.2"/>
<line x1="91" y1="749.69" x2="101.5" y2="749.69" stroke-width="1.2"/>
<line x1="742" y1="749.69" x2="731.5" y2="749.69" stroke-width="1.2"/>
<line x1="91" y1="736.76" x2="101.5" y2="736.76" stroke-width="1.2"/>
<line x1="742" y1="736.76" x2="731.5" y2="736.76" stroke-width="1.2"/>
<line x1="91" y1="724.71" x2="101.5" y2="724.71" stroke-width="1.2"/>
<line x1="742" y1="724.71" x2="731.5" y2="724.71" stroke-width="1.2"/>
<line x1="91" y1="713.44" x2="101.5" y2="713.44" stroke-width="1.2"/>
<line x1="742" y1="713.44" x2="731.5" y2="713.44" stroke-width="1.2"/>
<line x1="91" y1="702.86" x2="101.5" y2="702.86" stroke-width="1.2"/>
<line x1="742" y1="702.86" x2="731.5" y2="702.86" stroke-width="1.2"/>
<line x1="91" y1="692.88" x2="101.5" y2="692.88" stroke-width="1.2"/>
<line x1="742" y1="692.88" x2="731.5" y2="692.88" stroke-width="1.2"/>
<line x1="91" y1="683.44" x2="101.5" y2="683.44" stroke-width="1.2"/>
<line x1="742" y1="683.44" x2="731.5" y2="683.44" stroke-width="1.2"/>
<line x1="91" y1="674.49" x2="105.5" y2="674.49" stroke-width="1.2"/>
<line x1="742" y1="674.49" x2="727.5" y2="674.49" stroke-width="1.2"/>
<line x1="91" y1="665.97" x2="101.5" y2="665.97" stroke-width="1.2"/>
<line x1="742" y1="665.97" x2="731.5" y2="665.97" stroke-width="1.2"/>
<line x1="91" y1="657.85" x2="101.5" y2="657.85" stroke-width="1.2"/>
<line x1="742" y1="657.85" x2="731.5" y2="657.85" stroke-width="1.2"/>
<line x1="91" y1="650.09" x2="101.5" y2="650.09" stroke-width="1.2"/>
<line x1="742" y1="650.09" x2="731.5" y2="650.09" stroke-width="1.2"/>
<line x1="91" y1="642.66" x2="101.5" y2="642.66" stroke-width="1.2"/>
<line x1="742" y1="642.66" x2="731.5" y2="642.66" stroke-width="1.2"/>
</g>
<g font-family="Liberation Sans, Arial, sans-serif" font-size="40.0">
<text transform="translate(761.25,254.41) rotate(-90) scale(0.4716,0.4999)" fill="#666666">Rivet 4.1.0, &#8805; 100k events</text>
<text transform="translate(762.09,629.63) rotate(-90) scale(0.4771,0.4632)" fill="#666666">mcplots.cern.ch [arXiv:2401.10621]</text>
<text transform="translate(103.18,29.18) scale(0.6075,0.6528)" fill="#000">13000 GeV pp</text>
<text transform="translate(686.70,29.40) scale(0.6014,0.6536)" fill="#000">Jets</text>
<text transform="translate(76.37,86.90) scale(0.6131,0.6000)" fill="#000">CMS, 13 TeV, AK4 jets, central dijet region, 120 &lt;p</text>
<text transform="translate(615.20,70.35) scale(0.3981,0.3684)" fill="#000">{jet</text>
<text transform="translate(614.93,99.60) scale(0.3739,0.4071)" fill="#000">T</text>
<text transform="translate(637.30,86.84) scale(0.6010,0.5947)" fill="#000">}&lt; 150 GeV</text>
<text transform="translate(47.32,93.30) scale(0.5250,0.5786)" fill="#000">10</text>
<text transform="translate(71.06,83.40) scale(0.3722,0.3607)" fill="#000">2</text>
<text transform="translate(55.29,224.20) scale(0.5375,0.5786)" fill="#000">10</text>
<text transform="translate(71.96,355.80) scale(0.3471,0.5643)" fill="#000">1</text>
<text transform="translate(41.38,491.40) scale(0.5400,0.5893)" fill="#000">10</text>
<text transform="translate(64.55,481.90) scale(0.3262,0.3893)" fill="#000">&#8722;1</text>
<text transform="translate(38.50,623.90) scale(0.5325,0.5679)" fill="#000">10</text>
<text transform="translate(61.20,614.10) scale(0.4024,0.3857)" fill="#000">&#8722;2</text>
<text transform="translate(63.19,682.80) scale(0.6556,0.6000)" fill="#000">2</text>
<text transform="translate(66.65,804.80) scale(0.3824,0.6143)" fill="#000">1</text>
<text transform="translate(44.42,925.20) scale(0.5885,0.6143)" fill="#000">0.5</text>
<text transform="translate(747.20,682.80) scale(0.6500,0.5964)" fill="#000">2</text>
<text transform="translate(748.62,804.70) scale(0.3941,0.5929)" fill="#000">1</text>
<text transform="translate(747.60,925.50) scale(0.6019,0.6286)" fill="#000">0.5</text>
<text transform="translate(96.99,978.50) scale(0.5526,0.6143)" fill="#000">0</text>
<text transform="translate(400.49,978.50) scale(0.6058,0.6250)" fill="#000">0.5</text>
<text transform="translate(726.96,978.30) scale(0.3471,0.6179)" fill="#000">1</text>
<text transform="translate(515.27,1007.17) scale(0.6342,0.6289)" fill="#000">thrust (charged-only)</text>
<text transform="translate(36.60,846.34) rotate(-90) scale(0.4459,0.4733)" fill="#000">Ratio to CMS</text>
<text transform="translate(186.74,473.60) scale(0.4800,0.4964)" fill="#000">CMS</text>
<text transform="translate(186.98,500.67) scale(0.4749,0.4891)" fill="#000">Pythia 8.315 default</text>
<text transform="translate(186.98,526.18) scale(0.4749,0.4892)" fill="#000">Pythia 8.315 tune-2c</text>
<text transform="translate(187.48,551.58) scale(0.4749,0.4892)" fill="#000">Pythia 8.315 tune-2m</text>
<text transform="translate(334.21,604.06) scale(0.3959,0.3921)" fill="#999999">(CMS_2021_I1920187)</text>
<text transform="translate(17.20,96.13) rotate(-90) scale(0.6167,0.6167)" fill="#000">d</text>
<text transform="translate(5.30,83.38) rotate(-90) scale(0.3389,0.3389)" fill="#000">2</text>
<text transform="translate(16.80,74.89) rotate(-90) scale(0.5957,0.5957)" fill="#000">N</text>
<text transform="translate(43.10,121.33) rotate(-90) scale(0.6167,0.5967)" fill="#000">d</text>
<text transform="translate(43.33,101.35) rotate(-90) scale(0.6167,0.5967)" fill="#000">p</text>
<text transform="translate(56.90,88.77) rotate(-90) scale(0.3652,0.4250)" fill="#000">T</text>
<text transform="translate(43.10,65.28) rotate(-90) scale(0.6389,0.5967)" fill="#000">d</text>
<text transform="translate(43.10,48.30) rotate(-90) scale(0.6300,0.5967)" fill="#000">&#955;</text>
<text transform="translate(27.50,139.90) rotate(-90) scale(0.5364,0.6286)" fill="#000">#</text>
<text transform="translate(18.00,200.59) rotate(-90) scale(0.3647,0.6143)" fill="#000">1</text>
<text transform="translate(42.60,246.01) rotate(-90) scale(0.6056,0.6133)" fill="#000">d</text>
<text transform="translate(42.20,225.60) rotate(-90) scale(0.6000,0.6429)" fill="#000">N</text>
<text transform="translate(42.60,201.90) rotate(-90) scale(0.6455,0.6133)" fill="#000">/</text>
<text transform="translate(42.00,182.43) rotate(-90) scale(0.6167,0.6000)" fill="#000">d</text>
<text transform="translate(42.13,162.52) rotate(-90) scale(0.6389,0.5967)" fill="#000">p</text>
<text transform="translate(56.10,151.78) rotate(-90) scale(0.3826,0.4214)" fill="#000">T</text>
<text transform="translate(27.50,266.00) rotate(-90) scale(0.5364,0.6286)" fill="#000">#</text>
</g>
<rect x="147.70" y="462.00" width="11" height="11" fill="#000"/>
<line x1="129" y1="494" x2="177" y2="494" stroke="#0000ff" stroke-width="1.8"/><polygon points="147.85,498.85 158.35,498.85 153.10,489.15" fill="#0000ff"/>
<line x1="129" y1="520" x2="177" y2="520" stroke="#e69f00" stroke-width="1.8" stroke-dasharray="4.8,3.7"/><circle cx="153.10" cy="520.00" r="4.5" fill="#e69f00"/>
<line x1="129" y1="545.8" x2="177" y2="545.8" stroke="#e69f00" stroke-width="1.5" stroke-dasharray="2,2.2"/><circle cx="153.10" cy="545.80" r="4.3" fill="none" stroke="#e69f00" stroke-width="1.5"/>
<rect x="20" y="35" width="2.1" height="92.3" fill="#000"/>
<rect x="20" y="141.5" width="2.1" height="111.2" fill="#000"/>
</svg>
</body></html>
